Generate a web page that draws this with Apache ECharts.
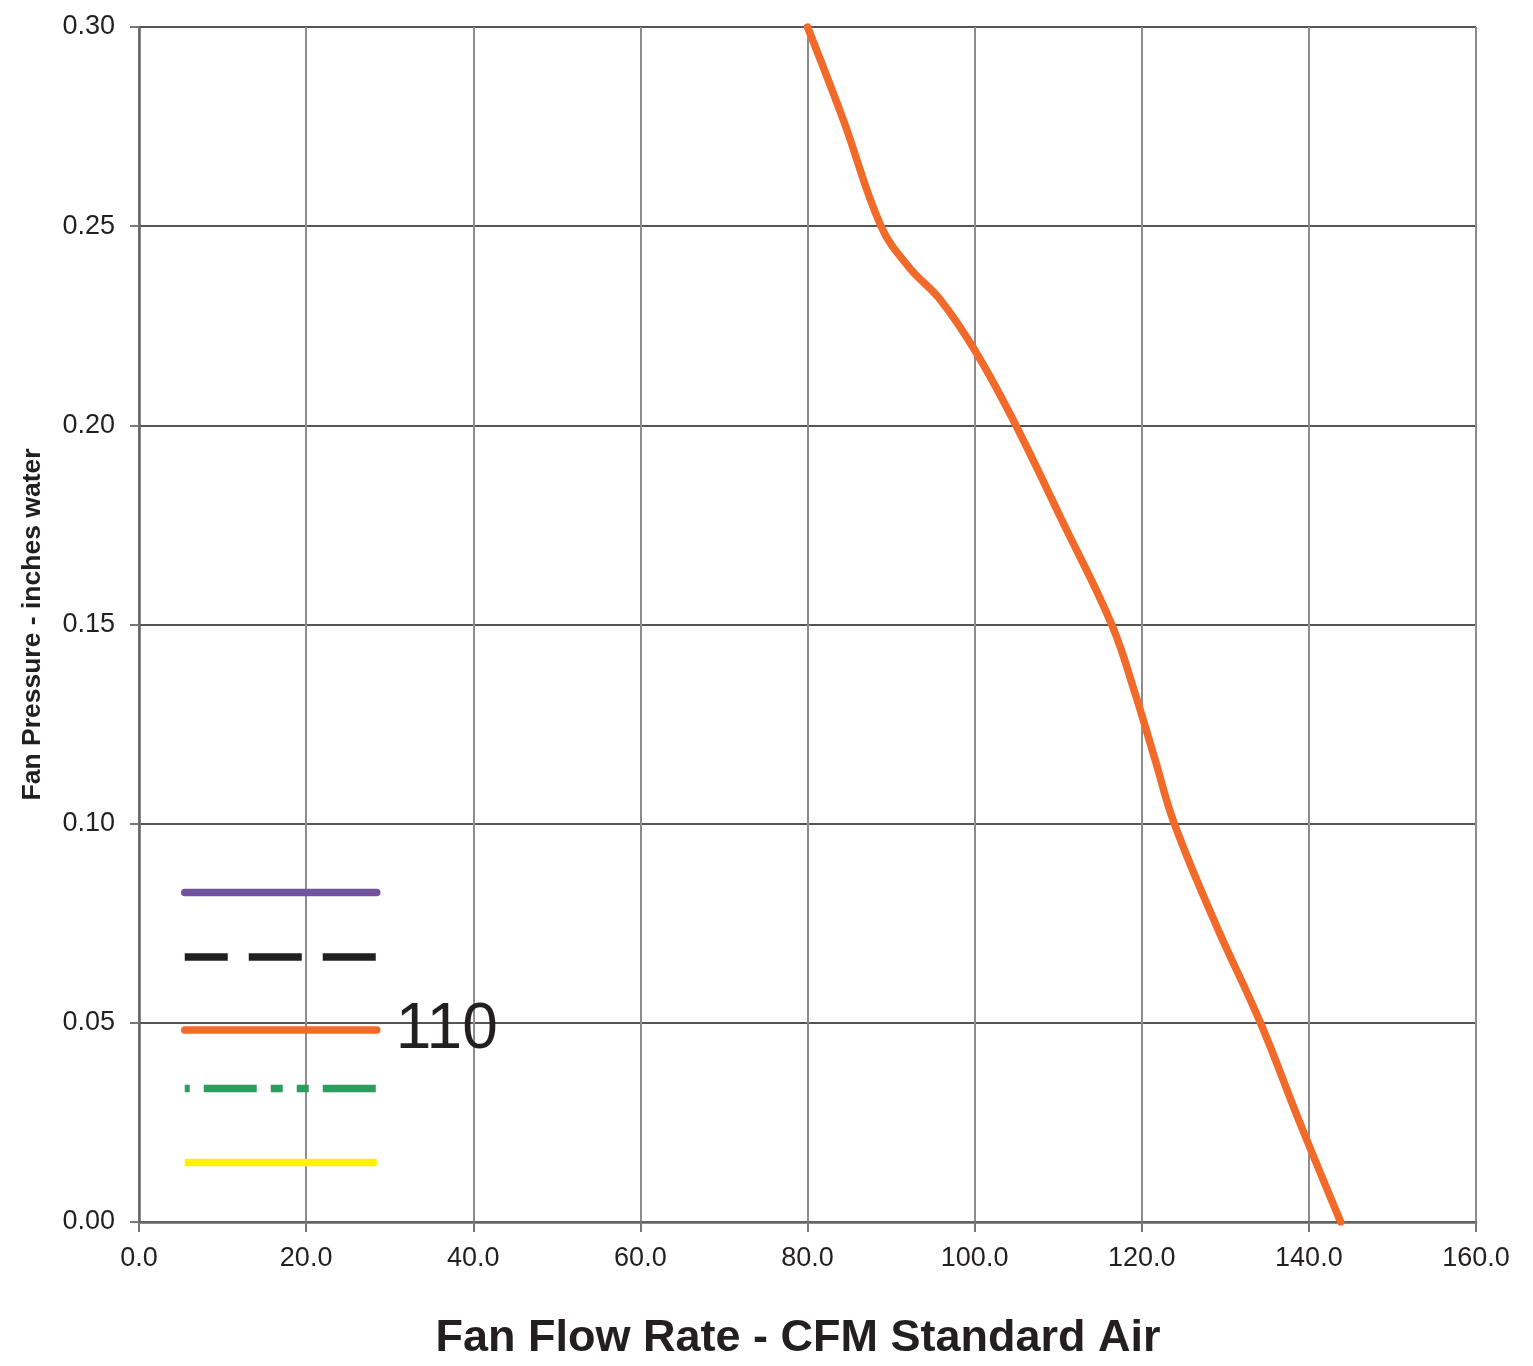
<!DOCTYPE html>
<html>
<head>
<meta charset="utf-8">
<script src="https://cdn.jsdelivr.net/npm/echarts@6/dist/echarts.min.js"></script>
<style>
html,body{margin:0;padding:0;background:#fff;}
#chart{width:1533px;height:1366px;}
</style>
</head>
<body>
<div id="chart"></div>
<script>
// Data (fan model 110 performance curve)
const flowCFM = [80, 84.3, 88.8, 92.1, 95.9, 100.0, 104.4, 110.6, 116.4, 119.2, 121.6, 123.9, 128.8, 134.2, 138.9, 143.8];
const pressure110 = [0.30, 0.2766, 0.25, 0.2398, 0.2315, 0.2189, 0.2022, 0.1755, 0.15, 0.1327, 0.116, 0.10, 0.075, 0.05, 0.025, 0.0];
const seriesNames = ['s1', 's2', '110', 's4', 's5'];
const seriesColors = ['#7352a0', '#231f20', '#f26a2a', '#2d9c5f', '#fff200'];
const xTicks = {min: 0, max: 160, interval: 20};
const yTicks = {min: 0, max: 0.30, interval: 0.05};

const curve110 = flowCFM.map((x, i) => [x, pressure110[i]]);
const seriesData = [[], [], curve110, [], []];

const lineTypes = ['solid', [53, 21], 'solid', [53, 14, 12, 14, 12, 14], 'solid'];
const dashOffsets = [0, 10, 0, 100, 0];
const caps = ['round', 'butt', 'round', 'butt', 'butt'];
const legendCenters = [892.5, 957, 1029, 1088.5, 1162.5];

const chart = echarts.init(document.getElementById('chart'), null, {renderer: 'canvas'});
const font = '"Liberation Sans", Arial, Helvetica, sans-serif';

const series = seriesNames.map((n, i) => ({
  name: n,
  type: 'line',
  data: seriesData[i],
  smooth: 0.4,
  showSymbol: false,
  symbol: 'none',
  color: seriesColors[i],
  lineStyle: {color: seriesColors[i], width: 7.5, type: lineTypes[i], dashOffset: dashOffsets[i], cap: caps[i], join: 'round'},
  silent: true,
  z: 5
}));

const legends = seriesNames.map((n, i) => {
  const big = n === '110';
  return {
    show: true,
    orient: 'vertical',
    left: 181,
    top: big ? legendCenters[i] - 31 : legendCenters[i] - 7,
    padding: 0,
    itemWidth: 192,
    itemHeight: 14,
    itemGap: 0,
    data: [n],
    selectedMode: false,
    itemStyle: {opacity: 0},
    lineStyle: {width: 7.5},
    formatter: function (name) { return name === '110' ? '110' : ''; },
    textStyle: {fontFamily: font, fontSize: big ? 64 : 10, color: '#231f20', padding: [0, 0, 0, 14]}
  };
});

const option = {
  backgroundColor: '#ffffff',
  animation: false,
  grid: {left: 139, right: 57, top: 27, bottom: 144, containLabel: false},
  legend: legends,
  xAxis: {
    type: 'value',
    min: xTicks.min, max: xTicks.max, interval: xTicks.interval,
    name: 'Fan Flow Rate - CFM Standard Air',
    nameLocation: 'middle',
    nameGap: 94,
    nameTextStyle: {fontFamily: font, fontSize: 45, fontWeight: 'bold', color: '#231f20', padding: [0, 19, 0, 0]},
    axisLine: {show: true, lineStyle: {color: '#666666', width: 2.5}},
    axisTick: {show: true, inside: false, length: 10, lineStyle: {color: '#777777', width: 2}},
    axisLabel: {margin: 23, fontFamily: font, fontSize: 27, color: '#231f20', formatter: v => v.toFixed(1)},
    splitLine: {show: true, lineStyle: {color: '#8c8c8c', width: 2}}
  },
  yAxis: {
    type: 'value',
    min: yTicks.min, max: yTicks.max, interval: yTicks.interval,
    name: 'Fan Pressure - inches water',
    nameLocation: 'middle',
    nameGap: 93,
    nameTextStyle: {fontFamily: font, fontSize: 26.5, fontWeight: 'bold', color: '#231f20'},
    axisLine: {show: true, lineStyle: {color: '#666666', width: 2.5}},
    axisTick: {show: true, inside: false, length: 9, lineStyle: {color: '#777777', width: 2}},
    axisLabel: {margin: 24, fontFamily: font, fontSize: 27, color: '#231f20', formatter: v => v.toFixed(2)},
    splitLine: {show: true, lineStyle: {color: '#555555', width: 1.8}}
  },
  series: series
};
chart.setOption(option);
</script>
</body>
</html>
